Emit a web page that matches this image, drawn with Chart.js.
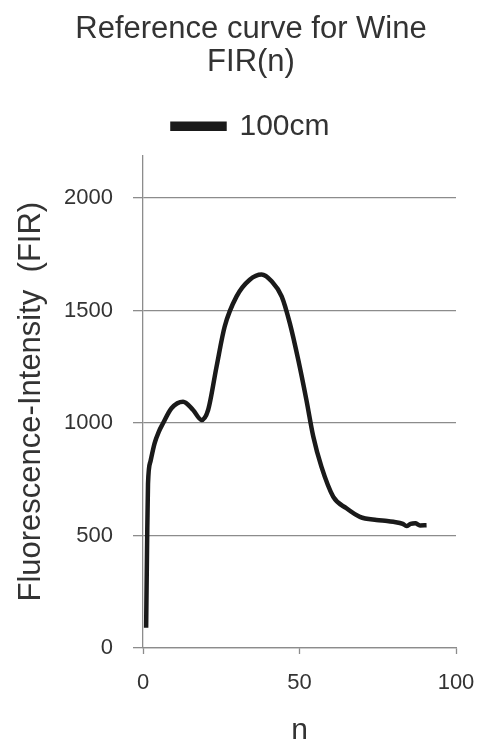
<!DOCTYPE html>
<html>
<head>
<meta charset="utf-8">
<script src="https://cdn.jsdelivr.net/npm/chart.js@4"></script>
<style>
  html, body { margin: 0; padding: 0; background: #fff; }
  canvas { display: block; }
</style>
</head>
<body>
<canvas id="fir-chart" width="480" height="742"></canvas>
<script>
// n values and FIR readings
const nValues = [1, 1.3, 1.6, 2.4, 3.7, 5, 6.4, 9.1, 12.8, 16, 18.7, 20.8, 23.5, 26.1, 29.9, 34.1, 37.9, 41.1, 44.3, 46.9, 49.6, 52.2, 54.4, 57, 60.8, 65, 69.3, 74.6, 78, 80, 83, 84.2, 85.5, 87, 88.5, 90.6];
const firValues = [90, 450, 730, 830, 910, 960, 999, 1066, 1095, 1058, 1014, 1058, 1251, 1429, 1563, 1637, 1660, 1630, 1563, 1444, 1281, 1103, 940, 806, 672, 621, 583, 569, 565, 561, 552, 542, 552, 554, 545, 546];
const yTickValues = [0, 500, 1000, 1500, 2000];
const xTickValues = [0, 50, 100];
const seriesLabel = '100cm';
const titleLines = ['Reference curve for Wine', 'FIR(n)'];
const yTitle = 'Fluorescence-Intensity  (FIR)';
const xTitle = 'n';

const textColor = '#333333';
const gridColor = '#8c8c8c';
const fontFamily = '"Liberation Sans", Arial, sans-serif';

// nudge legend height so the plot starts where the reference does
const legendHeightPlugin = {
    id: 'legendHeight',
    beforeInit(chart) {
        const fit = chart.legend.fit;
        chart.legend.fit = function () {
            fit.bind(this)();
            this.height = 57;
        };
    }
};

const points = nValues.map((n, i) => ({ x: n, y: firValues[i] }));

const ctx = document.getElementById('fir-chart').getContext('2d');
new Chart(ctx, {
    type: 'line',
    data: {
        datasets: [{
            label: seriesLabel,
            data: points,
            borderColor: '#1a1a1a',
            backgroundColor: '#1a1a1a',
            borderWidth: 4.5,
            pointRadius: 0,
            cubicInterpolationMode: 'monotone',
            fill: false
        }]
    },
    options: {
        responsive: false,
        animation: false,
        layout: { padding: { left: 29, right: 7, top: 0, bottom: 0 } },
        plugins: {
            title: {
                display: true,
                text: titleLines,
                color: textColor,
                font: { family: fontFamily, size: 31, weight: 'normal', lineHeight: 1.07 },
                padding: { top: 12.5, bottom: 19.5 }
            },
            legend: {
                display: true,
                labels: {
                    color: textColor,
                    font: { family: fontFamily, size: 30 },
                    boxWidth: 52,
                    boxHeight: 5,
                    padding: 13
                }
            },
            tooltip: { enabled: false }
        },
        scales: {
            x: {
                type: 'linear',
                min: 0, max: 100,
                afterBuildTicks(scale) { scale.ticks = xTickValues.map(v => ({ value: v })); },
                afterFit(scale) { scale.height = 94; scale.paddingRight = 24; scale.paddingLeft = 0; },
                border: { display: true, color: gridColor, width: 1.3 },
                grid: { display: true, drawOnChartArea: false, color: gridColor, tickLength: 6, tickWidth: 1.3 },
                ticks: { color: textColor, padding: 16, maxRotation: 0, callback: v => String(v), font: { family: fontFamily, size: 22 } },
                title: { display: true, text: xTitle, color: textColor, padding: { top: 0, bottom: -7 }, font: { family: fontFamily, size: 30 } }
            },
            y: {
                min: 0, max: 2190,
                afterBuildTicks(scale) { scale.ticks = yTickValues.map(v => ({ value: v })); },
                afterFit(scale) { scale.width = 114; scale.paddingTop = 0; scale.paddingBottom = 0; },
                border: { display: true, color: gridColor, width: 1.3 },
                grid: { display: true, color: gridColor, tickLength: 10, lineWidth: 1.3 },
                ticks: { color: textColor, padding: 20, callback: v => String(v), font: { family: fontFamily, size: 22 } },
                title: { display: true, text: yTitle, color: textColor, padding: { top: -16.6, bottom: 0 }, font: { family: fontFamily, size: 31 } }
            }
        }
    },
    plugins: [legendHeightPlugin]
});
</script>
</body>
</html>
